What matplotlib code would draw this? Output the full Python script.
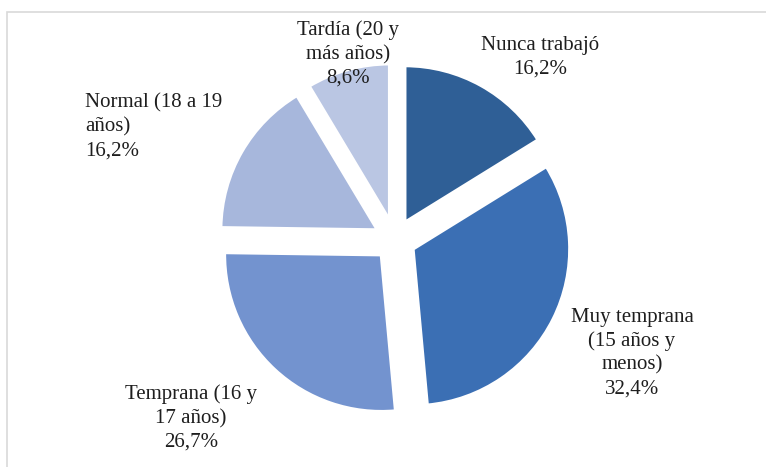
import matplotlib.pyplot as plt
from matplotlib.patches import Rectangle

# data
labels = ["Nunca trabajó", "Muy temprana\n(15 años y\nmenos)", "Temprana (16 y\n17 años)",
          "Normal (18 a 19\naños)", "Tardía (20 y\nmás años)"]
values = [16.2, 32.4, 26.7, 16.2, 8.6]
colors = ["#2F5F96", "#3B6FB4", "#7393CF", "#A7B7DC", "#BAC6E3"]

# label placement (pixel coords, y down) and alignment
label_pos = [(540, 57), (632, 353), (191, 418), (85, 127), (348, 54)]
label_ha = ["center", "center", "center", "left", "center"]

W, H = 766, 467
fig = plt.figure(figsize=(W / 100, H / 100), dpi=100)
ax = fig.add_axes([0, 0, 1, 1])

wedges, _ = ax.pie(values, colors=colors, startangle=90, counterclock=False,
                   center=(395, H - 240), radius=157, explode=[20] * len(values),
                   wedgeprops=dict(edgecolor="white", linewidth=2.5))

# pie resets the limits, so set them afterwards
ax.set_xlim(0, W)
ax.set_ylim(0, H)
ax.set_aspect("equal")
ax.axis("off")

# light frame around chart area (right/bottom run off the image)
ax.add_patch(Rectangle((7, -20), W + 20, H - 12 + 20, fill=False,
                       edgecolor="#D9D9D9", linewidth=1.2))

for lab, v, (x, y), ha in zip(labels, values, label_pos, label_ha):
    txt = lab + "\n" + f"{v:.1f}".replace(".", ",") + "%"
    ax.text(x, H - y, txt, ha=ha, va="center", multialignment=ha,
            fontfamily="Liberation Serif", fontsize=15, color="#1E1E1E",
            linespacing=1.32)

fig.savefig("out.png", dpi=100)
